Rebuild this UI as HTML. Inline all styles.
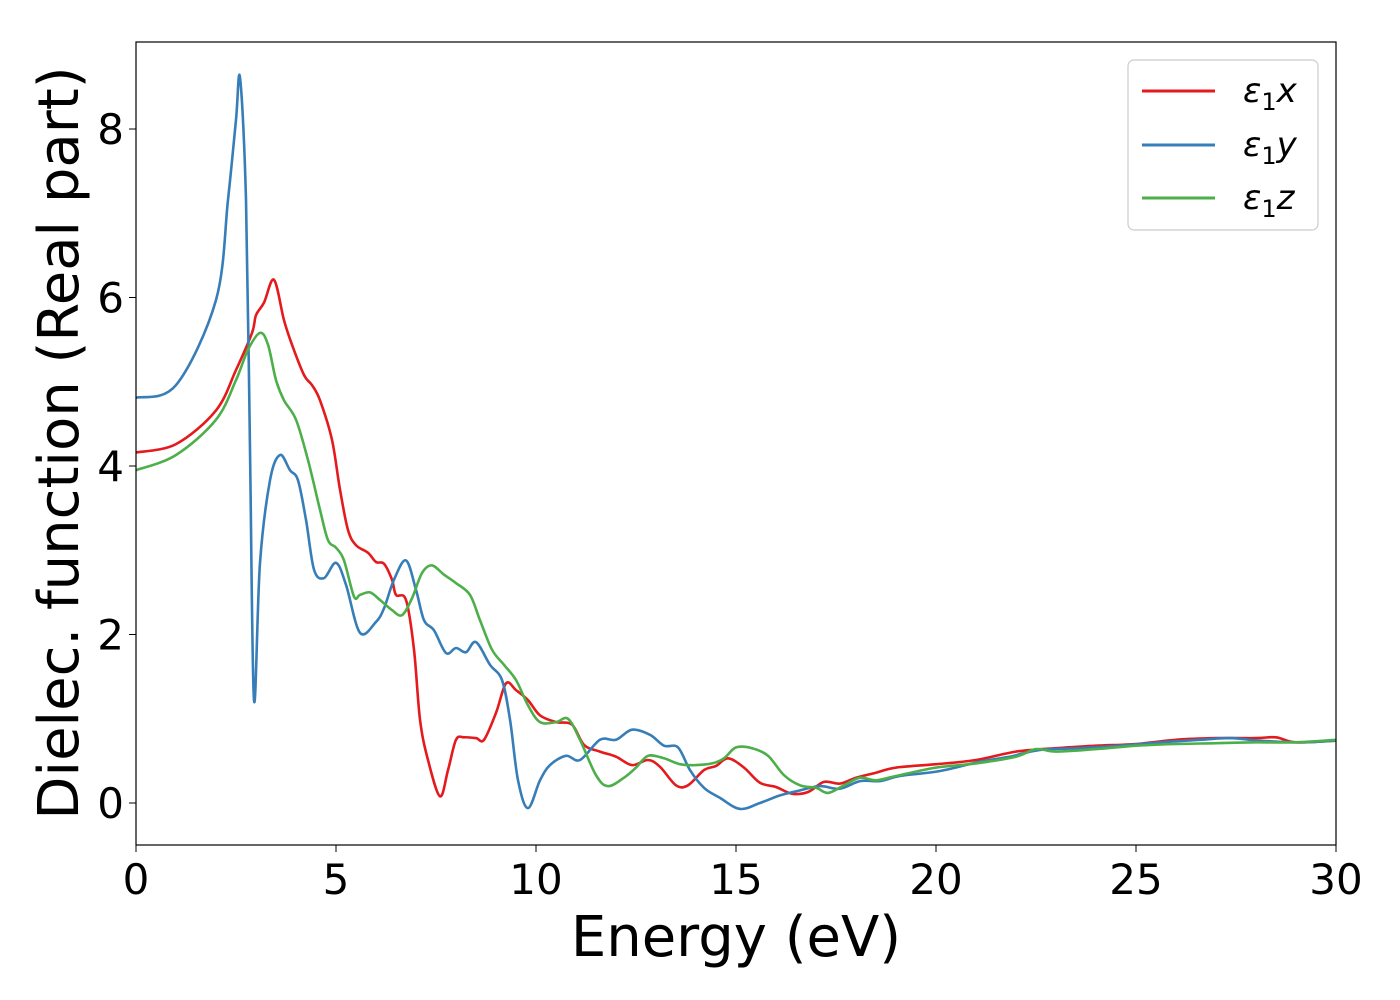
<!DOCTYPE html>
<html><head><meta charset="utf-8"><style>
html,body{margin:0;padding:0;background:#fff;}
svg{display:block;font-family:"DejaVu Sans","Liberation Sans",sans-serif;}
</style></head><body>
<svg id="chart" width="1400" height="1000" viewBox="0 0 1400 1000">
<rect x="0" y="0" width="1400" height="1000" fill="#fff"/>
<g id="series"></g>
<rect x="136" y="42" width="1200" height="803" fill="none" stroke="#000" stroke-width="1.2"/>
<g id="xticks"></g>
<g id="yticks"></g>
<text x="736" y="956" font-size="56" text-anchor="middle">Energy (eV)</text>
<text transform="translate(78,443) rotate(-90)" font-size="56" text-anchor="middle">Dielec. function (Real part)</text>
<g>
<rect x="1128" y="60" width="190" height="170" rx="6" fill="#fff" stroke="#ccc" stroke-width="1.2"/>
<g><line x1="1142" y1="91" x2="1215" y2="91" stroke="#e41a1c" stroke-width="3"/><text x="1243" y="102" font-size="34" font-style="italic">ε<tspan font-style="normal" font-size="24" dy="8">1</tspan><tspan dy="-8">x</tspan></text></g>
<g><line x1="1142" y1="145" x2="1215" y2="145" stroke="#377eb8" stroke-width="3"/><text x="1243" y="156" font-size="34" font-style="italic">ε<tspan font-style="normal" font-size="24" dy="8">1</tspan><tspan dy="-8">y</tspan></text></g>
<g><line x1="1142" y1="198" x2="1215" y2="198" stroke="#4daf4a" stroke-width="3"/><text x="1243" y="209" font-size="34" font-style="italic">ε<tspan font-style="normal" font-size="24" dy="8">1</tspan><tspan dy="-8">z</tspan></text></g>
</g>
</svg>
<script>
const xTicks=[0,5,10,15,20,25,30];
const yTicks=[0,2,4,6,8];
const redE=[0,1,2,2.5,2.9,3.0,3.2,3.45,3.7,3.9,4.2,4.4,4.6,4.9,5.1,5.3,5.5,5.8,6.0,6.2,6.4,6.5,6.75,6.95,7.1,7.3,7.6,7.8,8.0,8.2,8.5,8.7,9.0,9.25,9.5,9.8,10.1,10.5,10.9,11.2,11.6,12.0,12.4,12.8,13.1,13.5,13.8,14.2,14.5,14.8,15.2,15.6,16.0,16.4,16.8,17.2,17.6,18.0,18.5,19,20,21,22,23,24,25,26,27,28,28.5,29,30];
const redV=[4.16,4.26,4.66,5.14,5.58,5.79,5.94,6.21,5.73,5.44,5.08,4.96,4.78,4.31,3.72,3.24,3.06,2.97,2.86,2.84,2.65,2.47,2.41,1.82,0.99,0.51,0.08,0.39,0.75,0.78,0.77,0.75,1.07,1.42,1.34,1.22,1.04,0.96,0.93,0.69,0.61,0.55,0.45,0.51,0.43,0.21,0.21,0.39,0.44,0.53,0.42,0.24,0.19,0.11,0.13,0.25,0.23,0.30,0.36,0.42,0.46,0.51,0.61,0.65,0.68,0.70,0.75,0.77,0.77,0.78,0.72,0.74];
const blueE=[0,1,2,2.3,2.5,2.6,2.75,2.85,2.95,3.1,3.35,3.6,3.85,4.05,4.25,4.45,4.7,5.0,5.25,5.6,6.0,6.2,6.45,6.75,7.0,7.2,7.45,7.75,8.0,8.25,8.5,8.85,9.15,9.35,9.55,9.8,10.1,10.35,10.75,11.1,11.6,12.0,12.4,12.85,13.2,13.55,13.85,14.2,14.6,15.1,15.6,16.1,16.6,17.1,17.6,18.1,18.6,19.1,20.1,21.1,21.85,22.6,23.6,24.6,25.6,26.6,27.35,28.1,29.1,30];
const blueV=[4.81,4.96,5.97,7.16,8.11,8.61,7.16,4.19,1.22,2.85,3.83,4.13,3.95,3.83,3.36,2.77,2.67,2.85,2.59,2.02,2.15,2.31,2.65,2.88,2.53,2.17,2.05,1.78,1.84,1.79,1.91,1.64,1.46,0.99,0.27,-0.06,0.27,0.45,0.56,0.51,0.75,0.75,0.87,0.81,0.68,0.66,0.39,0.18,0.06,-0.07,0,0.09,0.15,0.20,0.17,0.26,0.26,0.32,0.38,0.49,0.55,0.63,0.65,0.68,0.72,0.75,0.77,0.74,0.72,0.74];
const greenE=[0,1,2,2.5,2.8,3.1,3.3,3.5,3.7,4.0,4.3,4.6,4.8,5.0,5.2,5.45,5.6,5.85,6.1,6.4,6.65,6.9,7.15,7.4,7.7,8.0,8.35,8.6,8.9,9.2,9.5,9.8,10.1,10.5,10.8,11.1,11.5,11.8,12.2,12.5,12.8,13.2,13.6,14.0,14.4,14.7,15.0,15.4,15.8,16.2,16.6,17.0,17.3,17.7,18.1,18.5,19,20,21,22,22.5,23,24,25,26,27,28,29,30];
const greenV=[3.95,4.13,4.55,5.02,5.38,5.58,5.44,5.02,4.78,4.55,4.07,3.48,3.12,3.03,2.88,2.45,2.47,2.50,2.41,2.29,2.23,2.43,2.73,2.82,2.71,2.61,2.47,2.17,1.82,1.64,1.46,1.16,0.96,0.96,1.00,0.75,0.33,0.20,0.30,0.42,0.56,0.53,0.46,0.45,0.47,0.53,0.66,0.65,0.56,0.33,0.21,0.18,0.12,0.21,0.30,0.27,0.32,0.42,0.47,0.55,0.64,0.61,0.64,0.68,0.70,0.71,0.72,0.72,0.75];

const X0=136,X1=1336,Y0=803,YPU=84.25;
function sx(e){return X0+(e-0)/(30-0)*(X1-X0);}
function sy(v){return Y0-v*YPU;}
const NS='http://www.w3.org/2000/svg';
function pathFrom(E,V){
  const p=E.map((e,i)=>[sx(e),sy(V[i])]);
  let d='M'+p[0][0].toFixed(1)+','+p[0][1].toFixed(1);
  for(let i=0;i<p.length-1;i++){
    const p0=p[i-1]||p[i],p1=p[i],p2=p[i+1],p3=p[i+2]||p[i+1];
    let c1x=p1[0]+(p2[0]-p0[0])/6,c1y=p1[1]+(p2[1]-p0[1])/6;
    let c2x=p2[0]-(p3[0]-p1[0])/6,c2y=p2[1]-(p3[1]-p1[1])/6;
    c1x=Math.min(Math.max(c1x,p1[0]),p2[0]);c2x=Math.min(Math.max(c2x,p1[0]),p2[0]);
    d+=' C'+c1x.toFixed(1)+','+c1y.toFixed(1)+' '+c2x.toFixed(1)+','+c2y.toFixed(1)+' '+p2[0].toFixed(1)+','+p2[1].toFixed(1);
  }
  return d;
}
const g=document.getElementById('series');
[[redE,redV,'#e41a1c','series-eps1-x'],[blueE,blueV,'#377eb8','series-eps1-y'],[greenE,greenV,'#4daf4a','series-eps1-z']].forEach(s=>{
  const el=document.createElementNS(NS,'path');
  el.setAttribute('d',pathFrom(s[0],s[1]));
  el.setAttribute('fill','none');el.setAttribute('stroke',s[2]);el.setAttribute('stroke-width','2.6');
  
  
  g.appendChild(el);
});
const xg=document.getElementById('xticks');
xTicks.forEach(t=>{
  const l=document.createElementNS(NS,'line');
  l.setAttribute('x1',sx(t));l.setAttribute('x2',sx(t));l.setAttribute('y1',845);l.setAttribute('y2',852);l.setAttribute('stroke','#000');
  
  
  xg.appendChild(l);
  const tx=document.createElementNS(NS,'text');
  tx.setAttribute('x',sx(t));tx.setAttribute('y',894);tx.setAttribute('font-size','42');tx.setAttribute('text-anchor','middle');
  tx.textContent=t;
  
  
  xg.appendChild(tx);
});
const yg=document.getElementById('yticks');
yTicks.forEach(t=>{
  const l=document.createElementNS(NS,'line');
  l.setAttribute('x1',129);l.setAttribute('x2',136);l.setAttribute('y1',sy(t));l.setAttribute('y2',sy(t));l.setAttribute('stroke','#000');
  
  
  yg.appendChild(l);
  const tx=document.createElementNS(NS,'text');
  tx.setAttribute('x',124);tx.setAttribute('y',sy(t)+15);tx.setAttribute('font-size','42');tx.setAttribute('text-anchor','end');
  tx.textContent=t;
  
  
  yg.appendChild(tx);
});
</script>
</body></html>
